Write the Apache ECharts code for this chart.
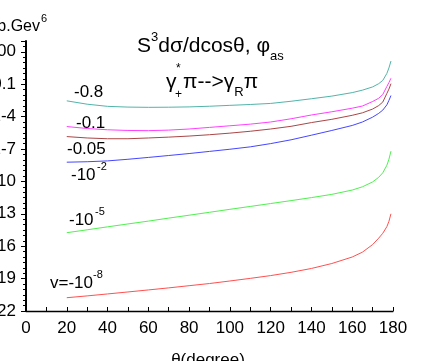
<!DOCTYPE html>
<html><head><meta charset="utf-8">
<script src="https://cdn.jsdelivr.net/npm/echarts@6/dist/echarts.min.js"></script>
<style>html,body{margin:0;padding:0;background:#fff}#c{width:429px;height:361px}</style>
</head><body><div id="c"></div>
<script>
// ---- data ----
const theta = [20,30,40,50,60,70,80,90,100,110,120,130,140,150,160,165,170,173,175,177,178,179];
const vM0_8  = [2.88e-3,1.41e-3,8.9e-4,7.6e-4,7.2e-4,7.4e-4,7.9e-4,9.1e-4,1.10e-3,1.32e-3,1.66e-3,2.63e-3,4.5e-3,7.9e-3,1.66e-2,2.8e-2,5.6e-2,0.112,0.224,1.0,3.2,14];
const vM0_1  = [1.20e-5,7.9e-6,6.0e-6,5.2e-6,5.0e-6,5.6e-6,7.1e-6,1.0e-5,1.41e-5,2.0e-5,3.16e-5,6.3e-5,1.41e-4,2.8e-4,6.0e-4,9.5e-4,2.5e-3,5.0e-3,1.12e-2,6.2e-2,0.141,0.355];
const vM0_05 = [1.41e-6,1.05e-6,8.9e-7,8.9e-7,1.05e-6,1.26e-6,1.58e-6,2.1e-6,2.95e-6,4.4e-6,7.1e-6,1.26e-5,2.8e-5,5.6e-5,1.32e-4,2.24e-4,5.0e-4,1.05e-3,2.24e-3,1.41e-2,3.5e-2,0.112];
const vM1e_2 = [6.0e-9,6.6e-9,7.9e-9,1.12e-8,1.66e-8,2.5e-8,3.8e-8,6.0e-8,9.5e-8,1.58e-7,3.16e-7,7.1e-7,1.9e-6,5.2e-6,1.51e-5,3.16e-5,8.9e-5,2.0e-4,4.0e-4,1.23e-3,3.16e-3,8.9e-3];
const vM1e_5 = [1.78e-15,3.3e-15,6.2e-15,1.15e-14,2.1e-14,4.0e-14,7.4e-14,1.38e-13,2.6e-13,4.8e-13,8.9e-13,1.66e-12,3.16e-12,6.3e-12,1.58e-11,3.16e-11,8.9e-11,2.4e-10,6.3e-10,3.16e-9,1.12e-8,6.3e-8];
const vM1e_8 = [1.70e-21,2.5e-21,3.8e-21,5.8e-21,8.9e-21,1.38e-20,2.2e-20,3.5e-20,6.0e-20,1.05e-19,1.9e-19,3.8e-19,8.7e-19,2.5e-18,1.0e-17,2.8e-17,1.41e-16,5.6e-16,1.58e-15,6.5e-15,2.0e-14,1.0e-13];
const seriesNames = ['-0.8','-0.1','-0.05','-1e-2','-1e-5','-1e-8'];
const seriesData = [vM0_8, vM0_1, vM0_05, vM1e_2, vM1e_5, vM1e_8];
const xTickLabels = ['0','20','40','60','80','100','120','140','160','180'];
const yTickExps = [-22,-19,-16,-13,-10,-7,-4,-1,2];
const yTickLabels = ['1E-22','1E-19','1E-16','1E-13','1E-10','1E-7','1E-4','0.1','100'];
const yExpMin = -22, yExpMax = 3;   // log10 range of the y axis (decades)

// ---- styles ----
const colors = ['#52b4aa','#ff40ff','#aa4646','#4646ff','#50f050','#ff5050'];
const FONT = '"Liberation Sans", Arial, sans-serif';
function txt(text, x, y, size, extra) {
  return {type:'text', x:x, y:y, silent:true,
    style: Object.assign({text:text, fontFamily:FONT, fontSize:size, fill:'#000',
      textAlign:'left', textVerticalAlign:'middle'}, extra || {})};
}
const supSub = {
  m:{fontFamily:FONT, fontSize:21, color:'#000', lineHeight:36, verticalAlign:'middle'},
  p:{fontFamily:FONT, fontSize:13, color:'#000', verticalAlign:'top', padding:[3,0,0,0]},
  b:{fontFamily:FONT, fontSize:13, color:'#000', verticalAlign:'bottom', padding:[0,0,1,0]}
};

// Logarithmic y axis: ECharts' own log scale rounds 1e-22 to 0, so the
// decade axis is drawn as a value axis over log10 of each data value.
const chart = echarts.init(document.getElementById('c'), null, {renderer:'canvas'});
chart.setOption({
  animation:false,
  backgroundColor:'#fff',
  grid:{left:26, right:36, top:41, bottom:50, containLabel:false, outerBoundsMode:'none'},
  xAxis:{
    type:'value', min:0, max:180, interval:20,
    axisLine:{show:true, onZero:false, lineStyle:{color:'#000', width:1.3}},
    axisTick:{show:true, inside:true, length:4, lineStyle:{color:'#000', width:1}},
    minorTick:{show:true, splitNumber:2, length:4, lineStyle:{color:'#000', width:1}},
    splitLine:{show:false}, minorSplitLine:{show:false},
    axisLabel:{show:true, color:'#000', fontSize:17, fontFamily:FONT, margin:9, hideOverlap:false,
      showMinLabel:true, showMaxLabel:true,
      formatter:function(v){ const i = Math.round(v/20); return xTickLabels[i] !== undefined ? xTickLabels[i] : ''; }}
  },
  yAxis:{
    type:'value', min:yExpMin, max:yExpMax, interval:3,
    axisLine:{show:true, onZero:false, lineStyle:{color:'#000', width:2}},
    axisTick:{show:true, inside:false, length:5, lineStyle:{color:'#000', width:1}},
    minorTick:{show:true, splitNumber:6, length:3, lineStyle:{color:'#000', width:1}},
    splitLine:{show:false}, minorSplitLine:{show:false},
    axisLabel:{show:true, color:'#000', fontSize:17, fontFamily:FONT, margin:10, hideOverlap:false,
      showMinLabel:true, showMaxLabel:true,
      formatter:function(v){ const i = yTickExps.indexOf(Math.round(v)); return i >= 0 ? yTickLabels[i] : ''; }}
  },
  series: seriesData.map(function(arr, k){
    return {type:'line', name:seriesNames[k], showSymbol:false, smooth:false,
      lineStyle:{color:colors[k], width:1}, itemStyle:{color:colors[k]},
      data: theta.map(function(t, i){ return [t, Math.log10(arr[i])]; })};
  }),
  graphic:[
    // y-axis name
    txt('nb.Gev', 40, 27, 16, {textAlign:'right'}),
    txt('6', 41, 19, 11),
    // title line 1
    txt('{m|S}{p|3}{m|dσ/dcosθ, }{m|φ}{b|as}', 137, 46, 21, {rich:supSub}),
    // title line 2
    txt('γ', 166, 82, 21),
    txt('*', 176, 69, 12),
    txt('+', 175, 95, 12),
    txt('{m|π-->γ}{b|R}{m|π}', 183, 82, 21, {rich:supSub}),
    // curve annotations
    txt('-0.8', 74, 92, 17),
    txt('-0.1', 76, 123, 17),
    txt('-0.05', 67, 149, 17),
    txt('-10', 71, 175, 17),
    txt('-2', 97, 167, 11),
    txt('-10', 69, 220, 17),
    txt('-5', 95, 212, 11),
    txt('v=-10', 50, 283, 17),
    txt('-8', 93, 275, 11),
    // x-axis name
    txt('θ(degree)', 208, 360, 17, {textAlign:'center'})
  ]
});
</script></body></html>
